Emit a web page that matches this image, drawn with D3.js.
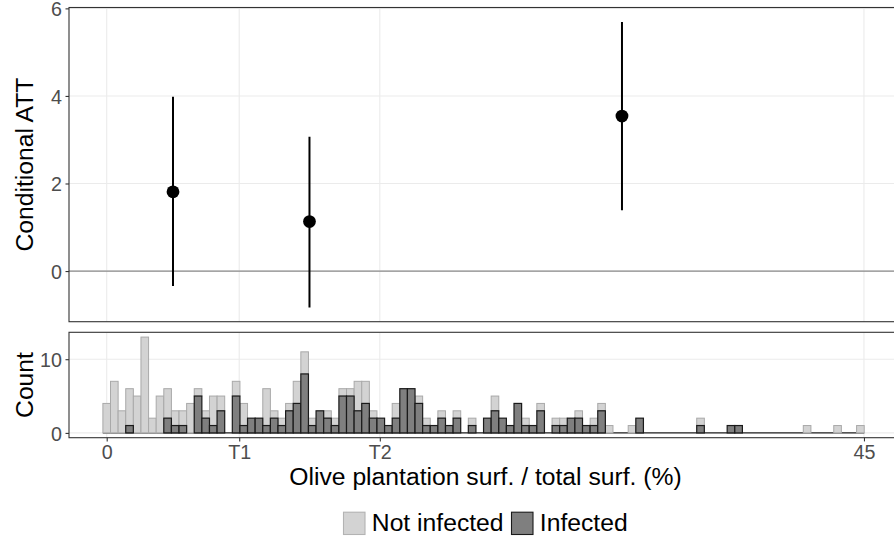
<!DOCTYPE html>
<html>
<head>
<meta charset="utf-8">
<script src="https://cdn.jsdelivr.net/npm/d3@7/dist/d3.min.js"></script>
<style>
  html, body { margin: 0; padding: 0; background: #fff; }
  svg { display: block; font-family: "Liberation Sans", Arial, Helvetica, sans-serif; }
</style>
</head>
<body>
<svg id="chart" width="894" height="538"></svg>
<script>
// Conditional ATT estimates (point + interval) by olive plantation share
const attX    = [3.94, 12.05, 30.62];
const attY    = [1.81, 1.13, 3.54];
const attLow  = [-0.34, -0.83, 1.39];
const attHigh = [3.98, 3.07, 5.69];

// Shared x axis breaks
const xTickVals   = [0, 7.875, 16.23, 45];
const xTickLabels = ["0", "T1", "T2", "45"];
const attTicks    = [0, 2, 4, 6];
const countTicks  = [0, 10];

// Histogram: 100 bins of the olive share, stacked by infection status
const binStart = -0.226;
const binWidth = 0.4524;
const infected = [
  0,0,0,1,0,0,0,0,2,1, 1,0,5,2,1,3,0,5,1,2,
  2,1,2,1,3,4,8,1,3,2, 1,5,5,3,4,2,2,1,2,6,
  6,4,1,1,2,1,2,0,1,0, 2,3,2,1,4,1,1,3,0,1,
  1,2,2,1,1,3,0,0,0,0, 2,0,0,0,0,0,0,0,1,0,
  0,0,1,1,0,0,0,0,0,0, 0,0,0,0,0,0,0,0,0,0
];
const notInfected = [
  4,7,3,5,5,13,2,5,4,2, 2,4,1,1,4,2,0,2,3,0,
  0,5,1,1,1,3,3,1,0,1, 1,1,1,4,3,1,0,0,2,0,
  0,1,1,0,1,0,1,0,1,0, 0,2,0,0,0,1,0,1,0,1,
  1,0,1,0,1,1,1,0,0,1, 0,0,0,0,0,0,0,0,1,0,
  0,0,0,0,0,0,0,0,0,0, 0,0,1,0,0,0,1,0,0,1
];
const legendLabels = ["Not infected", "Infected"];

const svg = d3.select("#chart");

const panelL = 69, panelR = 902;
const top1 = 7.5, bot1 = 321.7;
const top2 = 332.3, bot2 = 437.7;

const x = d3.scaleLinear().domain([-2.24, 47.26]).range([panelL, panelR]);
const yAtt = d3.scaleLinear().domain([-1.157, 6.02]).range([bot1, top1]);
const yCnt = d3.scaleLinear().domain([-0.65, 13.65]).range([bot2, top2]);

const gridCol = "#ebebeb";
const borderCol = "#333333";
const tickTextCol = "#4d4d4d";
const titleSize = 24.7;

// clip paths for panels
const defs = svg.append("defs");
defs.append("clipPath").attr("id", "clipTop").append("rect")
  .attr("x", panelL).attr("y", top1).attr("width", panelR - panelL).attr("height", bot1 - top1);
defs.append("clipPath").attr("id", "clipBot").append("rect")
  .attr("x", panelL).attr("y", top2).attr("width", panelR - panelL).attr("height", bot2 - top2);

function grid(g, yScale, yTicks, yTop, yBot) {
  g.selectAll("line.gx").data(xTickVals).join("line")
    .attr("x1", d => x(d)).attr("x2", d => x(d))
    .attr("y1", yTop).attr("y2", yBot)
    .attr("stroke", gridCol).attr("stroke-width", 1.1);
  g.selectAll("line.gy").data(yTicks).join("line").attr("class", "gy")
    .attr("x1", panelL).attr("x2", panelR)
    .attr("y1", d => yScale(d)).attr("y2", d => yScale(d))
    .attr("stroke", gridCol).attr("stroke-width", 1.1);
}

// ---------- top panel ----------
const gTop = svg.append("g").attr("clip-path", "url(#clipTop)");
grid(gTop.append("g"), yAtt, attTicks, top1, bot1);

gTop.append("line")
  .attr("x1", panelL).attr("x2", panelR)
  .attr("y1", yAtt(0)).attr("y2", yAtt(0))
  .attr("stroke", "#8a8a8a").attr("stroke-width", 1.3);

const attData = attX.map((v, i) => ({ x: v, y: attY[i], lo: attLow[i], hi: attHigh[i] }));
gTop.selectAll("line.err").data(attData).join("line").attr("class", "err")
  .attr("x1", d => x(d.x)).attr("x2", d => x(d.x))
  .attr("y1", d => yAtt(d.lo)).attr("y2", d => yAtt(d.hi))
  .attr("stroke", "#000").attr("stroke-width", 2);
gTop.selectAll("circle.pt").data(attData).join("circle").attr("class", "pt")
  .attr("cx", d => x(d.x)).attr("cy", d => yAtt(d.y))
  .attr("r", 6.4).attr("fill", "#000");

svg.append("rect")
  .attr("x", panelL).attr("y", top1).attr("width", panelR - panelL).attr("height", bot1 - top1)
  .attr("fill", "none").attr("stroke", borderCol).attr("stroke-width", 1.1);

// ---------- bottom panel ----------
const gBot = svg.append("g").attr("clip-path", "url(#clipBot)");
grid(gBot.append("g"), yCnt, countTicks, top2, bot2);

const bins = infected.map((inf, i) => ({
  x0: binStart + i * binWidth,
  x1: binStart + (i + 1) * binWidth,
  inf: inf,
  tot: inf + notInfected[i]
}));

// zero-height bins show as an outline along the baseline
gBot.append("line")
  .attr("x1", x(bins[0].x0)).attr("x2", x(bins[bins.length - 1].x1))
  .attr("y1", yCnt(0)).attr("y2", yCnt(0))
  .attr("stroke", "#222").attr("stroke-width", 1.1);

gBot.selectAll("rect.ninf").data(bins.filter(b => b.tot > b.inf)).join("rect").attr("class", "ninf")
  .attr("x", d => x(d.x0)).attr("width", d => x(d.x1) - x(d.x0))
  .attr("y", d => yCnt(d.tot)).attr("height", d => yCnt(d.inf) - yCnt(d.tot))
  .attr("fill", "#d3d3d3").attr("stroke", "#a9a9a9").attr("stroke-width", 1);

gBot.selectAll("rect.inf").data(bins.filter(b => b.inf > 0)).join("rect").attr("class", "inf")
  .attr("x", d => x(d.x0)).attr("width", d => x(d.x1) - x(d.x0))
  .attr("y", d => yCnt(d.inf)).attr("height", d => yCnt(0) - yCnt(d.inf))
  .attr("fill", "#7f7f7f").attr("stroke", "#1a1a1a").attr("stroke-width", 1.2);

svg.append("rect")
  .attr("x", panelL).attr("y", top2).attr("width", panelR - panelL).attr("height", bot2 - top2)
  .attr("fill", "none").attr("stroke", borderCol).attr("stroke-width", 1.1);

// ---------- axes ----------
function styleAxis(g) {
  g.select(".domain").remove();
  g.selectAll(".tick line").attr("stroke", borderCol).attr("stroke-width", 1.1);
  g.selectAll(".tick text").attr("fill", tickTextCol).attr("font-size", 19.7)
    .attr("font-family", "'Liberation Sans', Arial, sans-serif");
}

svg.append("g").attr("transform", `translate(${panelL},0)`)
  .call(d3.axisLeft(yAtt).tickValues(attTicks).tickFormat(d3.format("d")).tickSize(3.5).tickPadding(3.5))
  .call(styleAxis)
  .selectAll(".tick text").attr("dy", "0.36em");

svg.append("g").attr("transform", `translate(${panelL},0)`)
  .call(d3.axisLeft(yCnt).tickValues(countTicks).tickFormat(d3.format("d")).tickSize(3.5).tickPadding(3.5))
  .call(styleAxis)
  .selectAll(".tick text").attr("dy", "0.36em");

svg.append("g").attr("transform", `translate(0,${bot2})`)
  .call(d3.axisBottom(x).tickValues(xTickVals).tickFormat((d, i) => xTickLabels[i]).tickSize(3.7).tickPadding(3.6))
  .call(styleAxis);

// ---------- titles ----------
svg.append("text")
  .attr("x", (panelL + panelR) / 2).attr("y", 484.5)
  .attr("text-anchor", "middle").attr("font-size", titleSize).attr("fill", "#000")
  .text("Olive plantation surf. / total surf. (%)");

svg.append("text")
  .attr("transform", `translate(32.5,${(top1 + bot1) / 2}) rotate(-90)`)
  .attr("text-anchor", "middle").attr("font-size", titleSize).attr("fill", "#000")
  .text("Conditional ATT");

svg.append("text")
  .attr("transform", `translate(32.5,${(top2 + bot2) / 2}) rotate(-90)`)
  .attr("text-anchor", "middle").attr("font-size", titleSize).attr("fill", "#000")
  .text("Count");

// ---------- legend ----------
const legend = svg.append("g");
const keyFill = ["#d3d3d3", "#7f7f7f"];
const keyStroke = ["#b3b3b3", "#1a1a1a"];
const keyX = [343.5, 511.5];
legendLabels.forEach((lab, i) => {
  legend.append("rect")
    .attr("x", keyX[i]).attr("y", 512.2).attr("width", 21.5).attr("height", 22.3)
    .attr("fill", keyFill[i]).attr("stroke", keyStroke[i]).attr("stroke-width", 1.1);
  legend.append("text")
    .attr("x", keyX[i] + 28.3).attr("y", 530.5)
    .attr("font-size", titleSize).attr("fill", "#000")
    .text(lab);
});
</script>
</body>
</html>
